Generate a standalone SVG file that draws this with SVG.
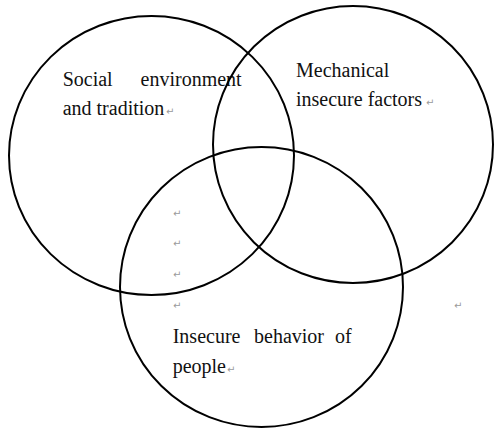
<svg xmlns="http://www.w3.org/2000/svg" width="495" height="428" viewBox="0 0 495 428">
<style>
.c{fill:none;stroke:#000;stroke-width:2}
.t{font-family:"Liberation Serif","Times New Roman",serif;font-size:20px;fill:#111}
.m{font-family:"DejaVu Sans",sans-serif;font-size:10px;fill:#9a9a9a}
</style>
<rect width="495" height="428" fill="#fff"/>
<g id="social">
<ellipse class="c" cx="151.5" cy="155.5" rx="142.5" ry="139.5"/>
<text class="t" x="62.7" y="86">Social</text>
<text class="t" x="241.7" y="86" text-anchor="end">environment</text>
<text class="t" x="62.7" y="115">and tradition</text>
<text class="m" x="166" y="115">↵</text>
</g>
<g id="mechanical">
<ellipse class="c" cx="353" cy="144.5" rx="140" ry="138.5"/>
<text class="t" x="296" y="77">Mechanical</text>
<text class="t" x="296" y="106">insecure factors</text>
<text class="m" x="426" y="106">↵</text>
</g>
<g id="behavior">
<ellipse class="c" cx="261.5" cy="287" rx="141.5" ry="140"/>
<text class="t" x="172.7" y="343">Insecure</text>
<text class="t" x="254" y="343">behavior</text>
<text class="t" x="351.7" y="343" text-anchor="end">of</text>
<text class="t" x="172.7" y="373">people</text>
<text class="m" x="227" y="373">↵</text>
</g>
<g id="marks">
<text class="m" x="173" y="217">↵</text>
<text class="m" x="173" y="247">↵</text>
<text class="m" x="173" y="278">↵</text>
<text class="m" x="173" y="309">↵</text>
<text class="m" x="454" y="309">↵</text>
</g>
<g id="connectors"></g>
</svg>
